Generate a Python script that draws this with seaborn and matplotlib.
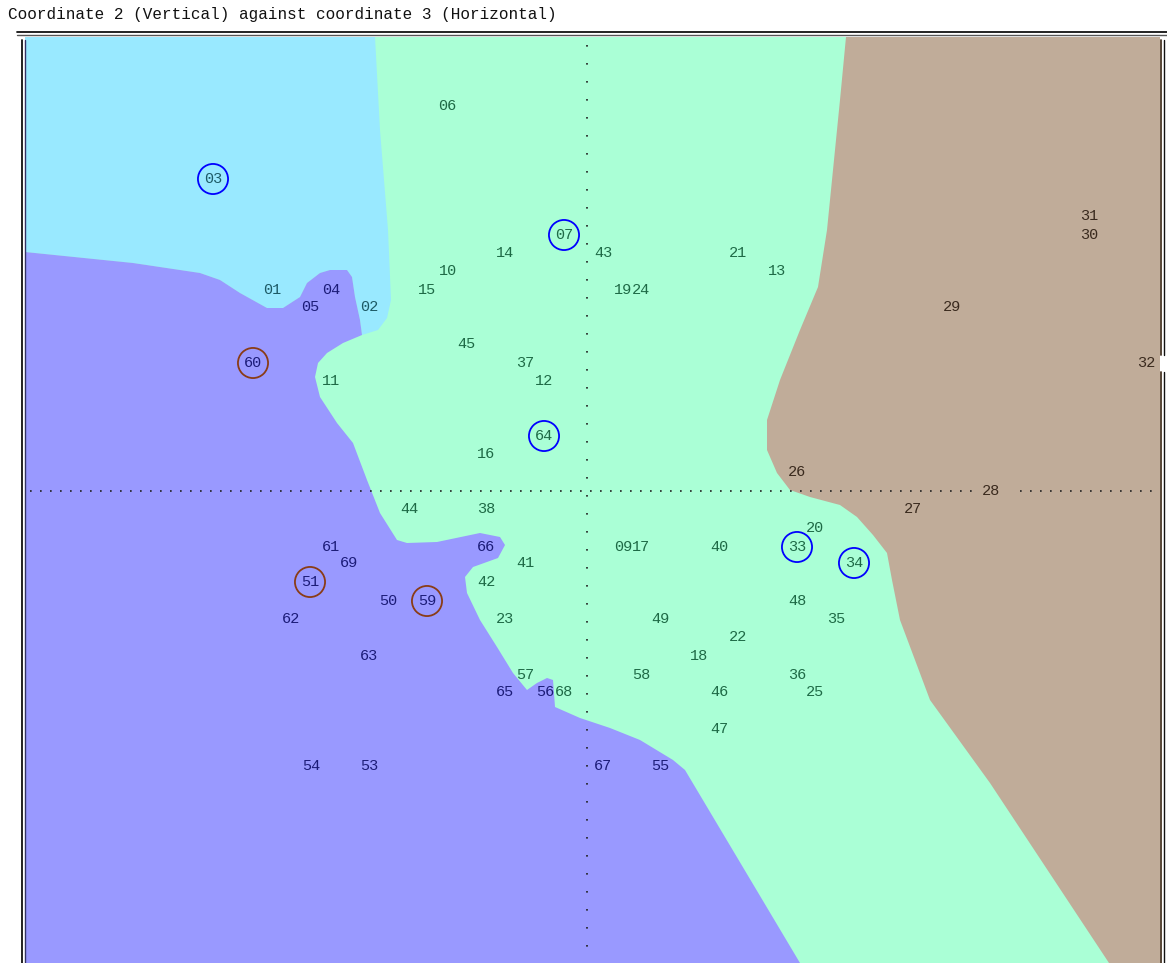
import numpy as np
import pandas as pd
import matplotlib
matplotlib.use("Agg")
import matplotlib.pyplot as plt
from matplotlib.lines import Line2D
import seaborn as sns

# point labels (coordinate 3 = horizontal, coordinate 2 = vertical)
labels = ["06", "03", "07", "14", "43", "21", "13", "31", "30", "10",
          "01", "04", "15", "19", "24", "05", "02", "29", "45", "60",
          "37", "32", "11", "12", "64", "16", "26", "28", "44", "38",
          "27", "20", "61", "66", "09", "17", "40", "33", "69", "41",
          "34", "51", "42", "50", "59", "48", "62", "23", "49", "35",
          "22", "18", "63", "57", "58", "36", "65", "56", "68", "46",
          "25", "47", "54", "53", "67", "55"]
coord3 = [-1.40, -3.74, -0.23, -0.82, 0.16, 1.51, 1.90, 5.02, 5.02, -1.39,
          -3.15, -2.56, -1.60, 0.36, 0.54, -2.77, -2.18, 3.65, -1.21, -3.34,
          -0.62, 5.59, -2.56, -0.43, -0.43, -1.01, 2.10, 4.04, -1.78, -1.01,
          3.26, 2.28, -2.56, -1.01, 0.36, 0.54, 1.32, 2.10, -2.38, -0.62,
          2.67, -2.77, -1.01, -1.99, -1.60, 2.10, -2.96, -0.82, 0.73, 2.49,
          1.51, 1.12, -2.18, -0.62, 0.54, 2.10, -0.82, -0.42, -0.23, 1.32,
          2.28, 1.32, -2.76, -2.18, 0.16, 0.73]
coord2 = [3.85, 3.12, 2.56, 2.38, 2.38, 2.38, 2.20, 2.75, 2.56, 2.20,
          2.01, 2.01, 2.01, 2.01, 2.01, 1.84, 1.84, 1.84, 1.47, 1.28,
          1.28, 1.28, 1.10, 1.10, 0.55, 0.37, 0.19, 0.00, -0.18, -0.18,
          -0.18, -0.37, -0.56, -0.56, -0.56, -0.56, -0.56, -0.56, -0.72, -0.72,
          -0.72, -0.91, -0.91, -1.10, -1.10, -1.10, -1.28, -1.28, -1.28, -1.28,
          -1.46, -1.65, -1.65, -1.84, -1.84, -1.84, -2.01, -2.01, -2.01, -2.01,
          -2.01, -2.38, -2.75, -2.75, -2.75, -2.75]

cyan_group = ["03", "01", "02"]
purple_group = ["04", "05", "60", "61", "66", "69", "51", "50", "59", "62",
                "63", "65", "56", "54", "53", "67", "55"]
brown_group = ["31", "30", "29", "32", "26", "28", "27"]

blue_rings = ["03", "07", "64", "33", "34"]
brown_rings = ["60", "51", "59"]

# region boundaries
cyan_purple_x = [-5.62, -4.54, -3.87, -3.67, -3.47, -3.20, -3.04, -2.87, -2.80,
                 -2.67, -2.57, -2.40, -2.35, -2.32, -2.27, -2.25]
cyan_purple_y = [2.39, 2.28, 2.18, 2.11, 1.98, 1.83, 1.83, 1.94, 2.08,
                 2.18, 2.21, 2.21, 2.14, 1.94, 1.71, 1.56]
cyan_green_x = [-2.12, -2.07, -1.99, -1.96, -2.00, -2.09, -2.25]
cyan_green_y = [4.54, 3.61, 2.61, 1.91, 1.73, 1.61, 1.56]
purple_green_x = [-2.25, -2.44, -2.60, -2.69, -2.72, -2.67, -2.50, -2.34, -2.20,
                  -2.07, -1.90, -1.80, -1.50, -1.07, -0.87, -0.82, -0.89, -1.14,
                  -1.22, -1.20, -1.07, -0.90, -0.74, -0.60, -0.50, -0.40, -0.34,
                  -0.32, -0.07, 0.23, 0.53, 0.86, 0.98, 2.13]
purple_green_y = [1.56, 1.48, 1.38, 1.28, 1.14, 0.94, 0.68, 0.48, 0.11,
                  -0.22, -0.49, -0.52, -0.51, -0.42, -0.46, -0.54, -0.67, -0.76,
                  -0.86, -1.02, -1.29, -1.56, -1.82, -1.99, -1.92, -1.87, -1.89,
                  -2.16, -2.27, -2.37, -2.49, -2.69, -2.79, -4.72]
green_brown_x = [2.59, 2.53, 2.45, 2.40, 2.31, 2.13, 1.93, 1.80, 1.80, 1.90,
                 2.03, 2.23, 2.53, 2.70, 2.86, 3.00, 3.05, 3.13, 3.43, 4.03, 5.22]
green_brown_y = [4.54, 3.91, 3.11, 2.61, 2.04, 1.61, 1.11, 0.71, 0.41, 0.18,
                 0.01, -0.06, -0.14, -0.26, -0.44, -0.62, -0.89, -1.29, -2.09,
                 -2.92, -4.72]

x_min, x_max = -5.62, 5.73
y_min, y_max = -4.72, 4.54

CYAN, GREEN, PURPLE, BROWN = "#99e9ff", "#aaffd6", "#9999ff", "#c0ac99"
TXT = {"cyan": "#1d5a66", "green": "#1e6a46", "purple": "#1c1c78", "brown": "#3a2a1e"}

df = pd.DataFrame({"label": labels, "c3": coord3, "c2": coord2})
df["group"] = "green"
df.loc[df.label.isin(cyan_group), "group"] = "cyan"
df.loc[df.label.isin(purple_group), "group"] = "purple"
df.loc[df.label.isin(brown_group), "group"] = "brown"

sns.set_theme(style="white")
plt.rcParams["font.family"] = ["Liberation Mono", "DejaVu Sans Mono"]

W, H = 1167, 963
fig = plt.figure(figsize=(W / 100, H / 100), dpi=100)
ax = fig.add_axes([25 / W, 0, 1135 / W, 926 / H])
ax.set_facecolor(GREEN)
ax.set_xlim(x_min, x_max)
ax.set_ylim(y_min, y_max)

# regions
cyan_x = [x_min] + cyan_green_x + cyan_purple_x[::-1]
cyan_y = [y_max] + cyan_green_y + cyan_purple_y[::-1]
ax.fill(cyan_x, cyan_y, color=CYAN, lw=0, zorder=1)
purple_x = cyan_purple_x + purple_green_x + [x_min]
purple_y = cyan_purple_y + purple_green_y + [y_min]
ax.fill(purple_x, purple_y, color=PURPLE, lw=0, zorder=1)
brown_x = green_brown_x + [x_max, x_max]
brown_y = green_brown_y + [y_min, y_max]
ax.fill(brown_x, brown_y, color=BROWN, lw=0, zorder=1)

# dotted axes through the origin
ax.plot([0, 0], [4.46, -4.60], color="#202020", lw=1.2,
        linestyle=(0, (1, 9.8)), zorder=2)
ax.plot([x_min + 0.05, 3.91], [0, 0], color="#202020", lw=1.2,
        linestyle=(0, (1, 5)), zorder=2)
ax.plot([4.33, x_max - 0.05], [0, 0], color="#202020", lw=1.2,
        linestyle=(0, (1, 5)), zorder=2)

# rings around highlighted points
for ring, col in [(blue_rings, "#0000ff"), (brown_rings, "#8a3c16")]:
    sub = df[df.label.isin(ring)]
    sns.scatterplot(data=sub, x="c3", y="c2", s=470, color=col,
                    linewidth=1.3, ax=ax, zorder=3, legend=False)
    pts = ax.collections[-1]
    pts.set_facecolor("none")
    pts.set_edgecolor(col)

for _, r in df.iterrows():
    ax.text(r.c3, r.c2, r.label, ha="center", va="center", fontsize=11,
            color=TXT[r.group], zorder=4)

ax.set_xticks([])
ax.set_yticks([])
ax.set_xlabel("")
ax.set_ylabel("")
for sp in ax.spines.values():
    sp.set_visible(False)

# double frame lines
def px_line(x0, y0, x1, y1, col, lw):
    fig.add_artist(Line2D([x0 / W, x1 / W], [1 - y0 / H, 1 - y1 / H],
                          transform=fig.transFigure, color=col, lw=lw))

px_line(17, 32.5, W, 32.5, "#111111", 1.3)
px_line(17, 35.5, W, 35.5, "#555555", 1.0)
px_line(21.5, 40, 21.5, H, "#111111", 1.3)
px_line(24.5, 40, 24.5, H, "#333366", 1.0)
px_line(1160.5, 40, 1160.5, 355, "#4a3828", 1.3)
px_line(1160.5, 372, 1160.5, H, "#4a3828", 1.3)
px_line(1164, 40, 1164, 355, "#111111", 1.0)
px_line(1164, 372, 1164, H, "#111111", 1.0)

fig.text(8 / W, 1 - 15 / H, "Coordinate 2 (Vertical) against coordinate 3 (Horizontal)",
         ha="left", va="center", fontsize=11.5, color="#111111")

fig.savefig("out.png", dpi=100)
